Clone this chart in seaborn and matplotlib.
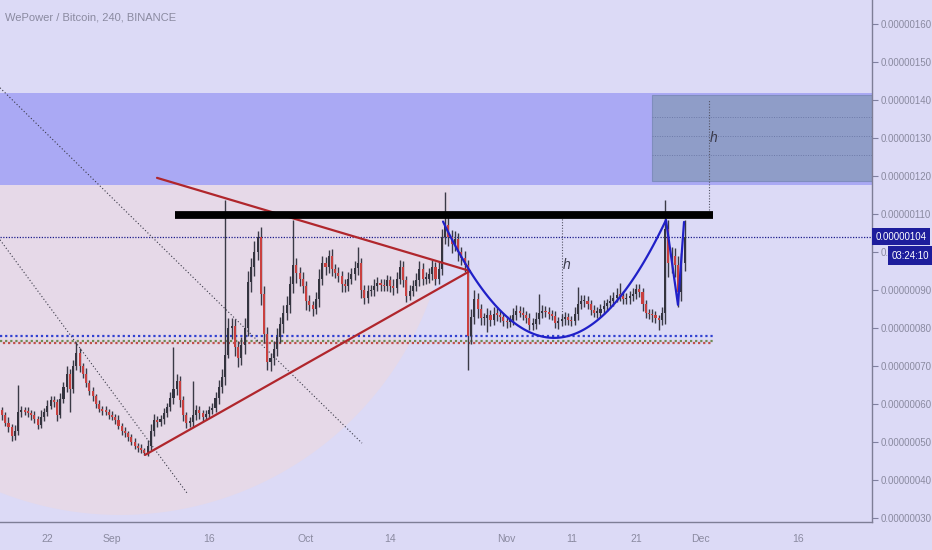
import numpy as np
import pandas as pd
import matplotlib
matplotlib.use("Agg")
import matplotlib.pyplot as plt
import matplotlib.dates as mdates
import matplotlib.transforms as mtransforms
from matplotlib.patches import Rectangle, Polygon
import seaborn as sns

sns.set_theme(style="white")
plt.rcParams['font.family'] = ['Liberation Sans', 'DejaVu Sans']

TITLE = "WePower / Bitcoin, 240, BINANCE"
SCALE = 1e-8  # prices below are in satoshi

# 12h candles starting at this time
START = "2018-08-14 12:00"
OPEN0 = 59.0
close = [
    58.4, 57, 55, 54, 51.5, 53, 58, 58.3, 58, 57.7,
    57, 56, 54.6, 56.5, 58, 59.6, 61, 60.5, 57, 61.2,
    64.5, 68, 64, 70, 73.5, 70, 68, 65.5, 63.5, 62,
    60, 58.6, 58.2, 58, 57.2, 56.5, 55.8, 54.3, 53, 52.3,
    51.3, 50, 49, 48.5, 47.8, 47.2, 49, 53, 55.8, 55.3,
    56, 57.5, 59.2, 61.5, 64, 66, 61, 57, 55, 55.3,
    57, 58.5, 57.5, 56.7, 57.3, 58.3, 59, 61.5, 64.5, 67,
    73, 80, 80.5, 75, 72, 75.5, 80, 92, 96, 100,
    104, 89, 78.5, 71, 72, 74.5, 77.6, 81, 84, 86,
    91.5, 96.5, 94.5, 93, 91, 87, 86, 85, 87.5, 93,
    97, 96, 99, 95.5, 94.5, 93.8, 91.5, 91, 93, 94.3,
    95.8, 97, 90, 88, 89.6, 90, 91, 91.8, 91.2, 91,
    92.5, 91, 90.5, 93, 96, 92.5, 88.5, 89.8, 91, 92.5,
    95.5, 93, 93, 94.3, 96, 93, 95.5, 104, 107, 104,
    102, 103.5, 100, 98.5, 96.5, 78, 83, 87.5, 85, 82.5,
    82.5, 83.5, 82, 83.8, 83.5, 83, 81.8, 81.5, 82, 83.5,
    84.5, 84, 83.5, 82.7, 80.8, 81, 82.3, 84, 84.5, 84.2,
    83.8, 83.2, 81.3, 81.8, 82.3, 83, 82, 81.8, 83.6, 86.3,
    87, 87.2, 86.4, 84.8, 84, 84, 85, 85.8, 86.5, 87.2,
    88, 88.8, 88.5, 87.5, 87.8, 88.3, 89, 90.3, 89.5, 86.2,
    84, 83.6, 83.3, 82.5, 82, 84, 106, 97, 99, 96.5,
    89.5, 97, 104,
]
wick_up = [
    1.2, 0.8, 1.0, 1.6, 0.7, 1.4, 7.0, 1.1, 0.9, 1.3,
    0.6, 1.2, 0.9, 1.8, 1.0, 1.5, 1.2, 1.0, 0.8, 1.6,
    1.3, 2.0, 1.1, 1.7, 2.8, 1.2, 0.9, 1.4, 0.8, 1.0,
    0.7, 1.1, 0.9, 1.2, 0.6, 1.0, 0.8, 1.3, 0.7, 0.9,
    0.6, 0.8, 1.0, 0.7, 0.9, 0.6, 1.4, 1.8, 1.5, 1.0,
    1.2, 1.4, 1.1, 1.6, 11.0, 1.8, 1.3, 1.0, 0.9, 1.2,
    9.0, 1.3, 1.0, 0.8, 1.1, 1.3, 1.2, 1.6, 1.9, 2.2,
    40.7, 2.5, 2.0, 1.8, 1.5, 2.2, 2.6, 3.0, 2.4, 2.8,
    1.5, 2.6, 2.0, 1.8, 1.5, 2.0, 2.3, 1.8, 2.0, 2.4,
    2.2, 12.0, 2.0, 1.6, 1.8, 1.4, 1.6, 1.2, 2.0, 2.4,
    2.0, 1.6, 1.5, 1.8, 1.4, 1.6, 1.2, 1.5, 1.8, 1.6,
    1.9, 4.3, 1.5, 1.2, 1.6, 1.3, 1.8, 1.5, 1.2, 1.6,
    1.4, 1.2, 1.8, 1.6, 2.0, 1.5, 1.2, 1.4, 1.7, 1.9,
    2.0, 1.5, 1.8, 1.6, 1.9, 1.4, 2.2, 2.0, 8.8, 2.2,
    1.8, 2.0, 1.6, 1.4, 1.8, 1.5, 2.0, 2.4, 1.6, 1.2,
    1.5, 1.8, 1.2, 1.6, 1.4, 1.2, 1.0, 1.3, 1.5, 1.8,
    1.6, 1.2, 1.4, 1.0, 1.2, 1.5, 1.8, 5.0, 1.6, 1.4,
    1.2, 1.0, 1.4, 1.2, 1.5, 1.3, 1.0, 1.2, 1.8, 4.5,
    1.6, 1.4, 1.2, 1.0, 1.3, 1.5, 1.4, 1.6, 1.2, 1.5,
    1.4, 1.6, 3.0, 1.2, 1.5, 1.3, 1.6, 1.4, 1.2, 1.0,
    1.2, 1.0, 1.3, 1.1, 1.0, 1.5, 7.7, 2.5, 2.2, 2.0,
    2.4, 2.8, 4.4,
]
wick_dn = [
    1.0, 1.2, 0.8, 1.5, 1.2, 0.9, 1.1, 1.4, 0.8, 1.0,
    1.2, 0.9, 1.3, 0.8, 1.0, 1.1, 0.9, 1.2, 1.5, 0.8,
    1.0, 1.4, 6.0, 1.2, 1.0, 1.5, 1.2, 0.9, 1.1, 1.3,
    1.0, 0.8, 1.2, 0.9, 1.1, 0.7, 1.0, 0.8, 1.2, 0.9,
    1.0, 0.8, 0.9, 1.1, 0.7, 0.7, 0.9, 1.2, 1.5, 1.3,
    1.0, 1.2, 0.9, 1.1, 1.4, 1.6, 1.8, 1.5, 1.2, 1.0,
    1.3, 1.1, 1.5, 1.2, 0.9, 1.1, 1.0, 1.2, 1.4, 1.6,
    2.0, 1.0, 3.0, 2.5, 2.2, 1.8, 2.4, 2.0, 2.6, 2.2,
    2.0, 3.0, 2.4, 2.0, 2.2, 1.8, 2.0, 1.6, 2.2, 1.8,
    2.0, 2.2, 2.6, 2.0, 1.8, 2.2, 1.6, 1.8, 1.4, 2.0,
    1.8, 2.0, 1.6, 1.8, 1.4, 1.6, 2.0, 1.5, 1.2, 1.4,
    1.6, 1.8, 2.2, 1.6, 1.4, 1.2, 1.5, 1.3, 1.6, 1.2,
    1.4, 1.6, 1.8, 1.2, 1.4, 1.8, 1.6, 1.2, 1.4, 1.3,
    1.5, 1.8, 1.4, 1.2, 1.6, 1.8, 1.4, 1.6, 2.0, 2.4,
    2.2, 1.8, 2.4, 2.0, 1.8, 9.0, 2.2, 2.0, 2.4, 1.8,
    1.6, 3.5, 1.4, 1.2, 1.6, 1.4, 1.2, 1.5, 1.3, 1.2,
    1.4, 1.2, 1.5, 1.3, 1.2, 1.4, 1.2, 1.3, 1.5, 1.2,
    1.4, 1.2, 1.3, 1.5, 1.2, 1.4, 1.2, 1.3, 1.1, 1.4,
    1.2, 1.5, 1.3, 1.4, 1.2, 1.3, 1.1, 1.4, 1.2, 1.3,
    1.5, 1.2, 1.4, 1.3, 1.2, 1.4, 1.2, 1.5, 1.3, 1.6,
    1.4, 1.2, 1.6, 1.3, 2.5, 1.2, 3.0, 3.5, 2.5, 3.0,
    4.0, 2.5, 2.0,
]

# axis
x_range = ["2018-08-14 16:30", "2018-12-27 11:15"]
y_range = [28.95, 166.3]
tick_dates = ["2018-08-22", "2018-09-01", "2018-09-16", "2018-10-01", "2018-10-14",
              "2018-11-01", "2018-11-11", "2018-11-21", "2018-12-01", "2018-12-16"]
tick_labels = ["22", "Sep", "16", "Oct", "14", "Nov", "11", "21", "Dec", "16"]
price_ticks = [30, 40, 50, 60, 70, 80, 90, 100, 110, 120, 130, 140, 150, 160]
last_price = 104
countdown = "03:24:10"

# drawings (dates, prices)
band = [117.6, 141.8]
target_start = "2018-11-23 11:00"
target_box = [118.7, 141.3]
target_lines = [125.5, 130.5, 135.5]
resistance_x = ["2018-09-10 18:00", "2018-12-02 21:00"]
resistance_y = [109.6, 109.6]
tri_upper_x = ["2018-09-07 23:00", "2018-10-26 08:00"]
tri_upper_y = [119.5, 95.0]
tri_lower_x = ["2018-09-06 02:30", "2018-10-26 08:00"]
tri_lower_y = [46.6, 95.0]
cup_x = ["2018-10-22 04:00", "2018-11-08 10:00", "2018-11-25 15:00"]
cup_y = [108.0, 77.4, 108.4]
handle_x = ["2018-11-25 15:00", "2018-11-27 11:30", "2018-11-28 10:00"]
handle_y = [108.4, 86.1, 107.9]
diag1_x = ["2018-08-14 16:30", "2018-09-12 14:00"]
diag1_y = [103.2, 36.6]
diag2_x = ["2018-08-14 16:30", "2018-10-09 15:20"]
diag2_y = [143.2, 49.7]
support_end = "2018-12-02 21:00"
support_blue = 77.9
support_green = 76.6
support_red = 76.0
h1_x, h1_y = "2018-11-09 13:00", [82.1, 109.7]
h1_text = ("2018-11-10 07:00", 96.6)
h2_x, h2_y = "2018-12-02 06:30", [111.0, 140.0]
h2_text = ("2018-12-02 22:00", 130.0)
circle_center = ("2018-09-02 06:00", 117.6)
circle_radius = (51.0, 86.8)  # days, satoshi

BG = '#dcdaf6'
GREY = '#8a8aa0'


def d2n(s):
    return mdates.date2num(pd.Timestamp(s))


fig = plt.figure(figsize=(9.32, 5.5), dpi=100, facecolor=BG)
ax = fig.add_axes([0, 28 / 550, 872 / 932, 522 / 550])
ax.set_facecolor(BG)

# pink circle (lower half) behind everything
cx, cy = d2n(circle_center[0]), circle_center[1]
th = np.linspace(np.pi, 2 * np.pi, 200)
pts = np.column_stack([cx + circle_radius[0] * np.cos(th), cy + circle_radius[1] * np.sin(th)])
ax.add_patch(Polygon(pts, closed=True, fc='#e6d9e8', ec='none', zorder=0))

# blue zone and target box
xl = [d2n(x_range[0]), d2n(x_range[1])]
ax.add_patch(Rectangle((xl[0], band[0]), xl[1] - xl[0], band[1] - band[0],
                       fc='#aaa9f4', ec='none', zorder=1))
tx = d2n(target_start)
ax.add_patch(Rectangle((tx, target_box[0]), xl[1] - tx, target_box[1] - target_box[0],
                       fc='#8f9dc8', ec='#7f8dbd', lw=0.8, zorder=1.5))
for ly in target_lines:
    ax.plot([tx, xl[1]], [ly, ly], color='#6d7aa8', lw=0.7, ls=(0, (1, 1.5)), zorder=1.6)

# candles
times = pd.date_range(START, periods=len(close), freq="12h")
xs = mdates.date2num(times)
c = np.array(close)
o = np.concatenate([[OPEN0], c[:-1]])
hi = np.maximum(o, c) + np.array(wick_up)
lo = np.minimum(o, c) - np.array(wick_dn)
up = c >= o
cols = np.where(up, '#34343f', '#c9403f')
ax.vlines(xs, lo, hi, colors='#3a3a46', lw=1.0, zorder=3)
body = np.maximum(np.abs(c - o), 0.4)
ax.bar(xs, body, bottom=np.minimum(o, c), width=0.32, color=cols, lw=0, zorder=3.5)

# horizontal support dotted lines
se = d2n(support_end)
ax.plot([xl[0], se], [support_blue] * 2, color='#3040d0', lw=1.6, ls=(0, (1, 1.3)), zorder=2)
ax.plot([xl[0], se], [support_green] * 2, color='#6f8a55', lw=1.6, ls=(0, (1, 1.3)), zorder=2)
ax.plot([xl[0], se], [support_red] * 2, color='#c0504a', lw=1.6, ls=(1, (1, 1.3)), zorder=2)

# current price dotted line
ax.axhline(last_price, color='#1c1c8c', lw=0.9, ls=(0, (1, 1.2)), zorder=2)

# diagonal thin dotted lines
for dx, dy in [(diag1_x, diag1_y), (diag2_x, diag2_y)]:
    ax.plot([d2n(v) for v in dx], dy, color='#3a3a48', lw=0.8, ls=(0, (1, 2)), zorder=2.5)

# triangle
ax.plot([d2n(v) for v in tri_upper_x], tri_upper_y, color='#b0262c', lw=1.6, zorder=4)
ax.plot([d2n(v) for v in tri_lower_x], tri_lower_y, color='#b0262c', lw=1.6, zorder=4)

# resistance
ax.plot([d2n(v) for v in resistance_x], resistance_y, color='black', lw=5.6,
        solid_capstyle='butt', zorder=4)

# cup & handle
cxn = [d2n(v) for v in cup_x]
coef = np.polyfit(cxn, cup_y, 2)
cup_line = np.linspace(cxn[0], cxn[-1], 120)
sns.lineplot(x=cup_line, y=np.polyval(coef, cup_line), ax=ax, color='#2020c8', lw=1.6,
             sort=False, estimator=None, zorder=4.5)
sns.lineplot(x=[d2n(v) for v in handle_x], y=handle_y, ax=ax, color='#2020c8', lw=1.6,
             sort=False, estimator=None, zorder=4.5)

# h measurements
ax.plot([d2n(h1_x)] * 2, h1_y, color='#555566', lw=0.8, ls=(0, (1, 1.5)), zorder=2.5)
ax.text(d2n(h1_text[0]), h1_text[1], "h", fontsize=10, style='italic', color='#3a3a4a',
        ha='center', va='center', zorder=5)
ax.plot([d2n(h2_x)] * 2, h2_y, color='#555566', lw=0.8, ls=(0, (1, 1.5)), zorder=2.5)
ax.text(d2n(h2_text[0]), h2_text[1], "h", fontsize=10, style='italic', color='#3a3a4a',
        ha='center', va='center', zorder=5)

# axes
ax.set_xlim(xl)
ax.set_ylim(y_range)
ax.set_xticks([d2n(v) for v in tick_dates])
ax.set_xticklabels(tick_labels)
ax.yaxis.tick_right()
ax.set_yticks(price_ticks)
ax.set_yticklabels([f"{p * SCALE:.8f}" for p in price_ticks])
ax.tick_params(axis='y', direction='out', length=4, width=0.8, color='#8080a0',
               labelcolor=GREY, labelsize=7, pad=2)
ax.tick_params(axis='x', direction='out', length=4, width=0.8, color='#8080a0',
               labelcolor=GREY, labelsize=7.5, pad=5)
for side in ['top', 'left']:
    ax.spines[side].set_visible(False)
for side in ['right', 'bottom']:
    ax.spines[side].set_color('#7e7e96')
    ax.spines[side].set_linewidth(1)
ax.grid(False)

# price label & countdown on the axis
trans = mtransforms.blended_transform_factory(ax.transAxes, ax.transData)
ax.text(1.004, last_price, f"{last_price * SCALE:.8f}", transform=trans, ha='left', va='center',
        color='white', fontsize=7, clip_on=False, zorder=10,
        bbox=dict(boxstyle='square,pad=0.35', fc='#1d1d9c', ec='none'))
ax.annotate(countdown, xy=(1, last_price), xycoords=trans, xytext=(20, -19),
            textcoords='offset pixels', ha='left', va='center', color='white', fontsize=7,
            annotation_clip=False, zorder=10,
            bbox=dict(boxstyle='square,pad=0.45', fc='#1d1d9c', ec='none'))

fig.text(5 / 932, 1 - 17 / 550, TITLE, color=GREY, fontsize=8, ha='left', va='center')

fig.savefig("out.png", dpi=100, facecolor=BG)
